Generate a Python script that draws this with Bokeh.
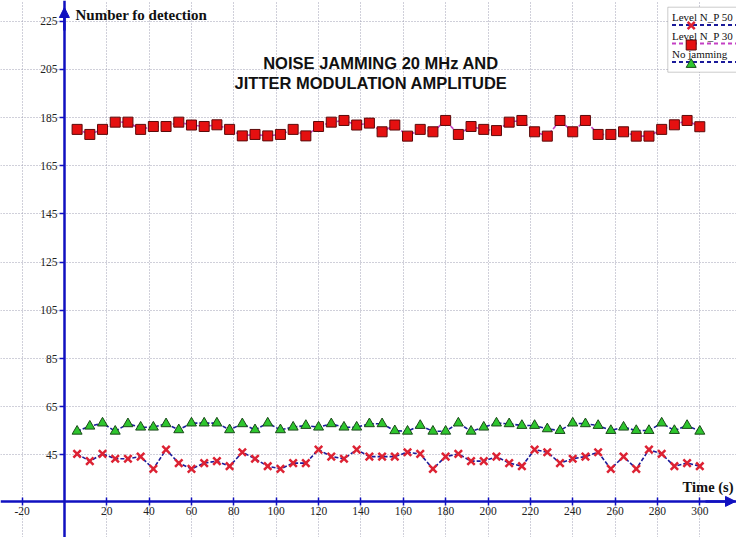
from bokeh.plotting import figure
from bokeh.models import (LinearAxis, FixedTicker, Grid, Range1d, Label, Arrow,
                          NormalHead, BoxAnnotation, ColumnDataSource)
from bokeh.embed import file_html
from bokeh.resources import INLINE

# ---------------- data ----------------
time_s = [6, 12, 18, 24, 30, 36, 42, 48, 54, 60, 66, 72, 78, 84, 90, 96, 102, 108,
          114, 120, 126, 132, 138, 144, 150, 156, 162, 168, 174, 180, 186, 192, 198,
          204, 210, 216, 222, 228, 234, 240, 246, 252, 258, 264, 270, 276, 282, 288,
          294, 300]

level_np_30 = [180.1, 178.0, 180.1, 183.1, 183.1, 180.1, 181.3, 181.3, 183.1, 181.9,
               181.3, 182.0, 180.1, 177.4, 178.0, 177.4, 178.0, 180.1, 177.4, 181.3,
               183.1, 183.8, 181.9, 182.7, 179.1, 181.9, 177.3, 180.1, 179.1, 183.8,
               178.0, 181.3, 180.1, 179.6, 183.1, 183.8, 179.1, 177.3, 183.8, 179.1,
               183.8, 178.0, 178.0, 179.1, 177.3, 177.3, 180.1, 182.0, 183.8, 181.2]

no_jamming = [54.8, 56.9, 58.2, 54.8, 57.9, 56.5, 56.5, 57.9, 55.4, 58.2,
              58.2, 58.2, 55.4, 57.9, 55.4, 58.2, 55.4, 56.5, 57.2, 56.5,
              57.9, 56.5, 56.5, 57.9, 57.9, 55.0, 54.8, 57.2, 54.8, 54.8,
              58.2, 54.8, 56.5, 58.2, 57.9, 57.2, 57.2, 55.8, 55.1, 58.2,
              57.9, 57.2, 55.1, 56.5, 55.1, 55.1, 58.2, 55.1, 57.2, 54.8]

level_np_50 = [45.4, 42.4, 45.4, 43.4, 43.4, 44.3, 39.2, 47.2, 41.6, 39.2,
               41.6, 42.4, 40.3, 46.1, 43.4, 40.3, 39.2, 41.6, 41.6, 47.2,
               44.3, 43.4, 47.2, 44.3, 44.3, 44.3, 46.1, 45.4, 39.2, 44.3,
               45.4, 42.4, 42.4, 44.3, 41.6, 40.3, 47.2, 46.1, 41.6, 43.4,
               44.3, 46.1, 39.2, 44.3, 39.2, 47.2, 45.4, 40.3, 41.6, 40.3]

x_ticks = [-20, 20, 40, 60, 80, 100, 120, 140, 160, 180, 200, 220, 240, 260, 280, 300]
y_ticks = [45, 65, 85, 105, 125, 145, 165, 185, 205, 225]
x_axis_cross = 25.7

title_lines = ["NOISE JAMMING 20 MHz AND", "JITTER MODULATION AMPLITUDE"]
legend_labels = ["Level N_P 50", "Level N_P 30", "No jamming"]

# ---------------- layout helpers (page pixel -> data) ----------------
W, H = 736, 537
X0PX, XSCALE = 63.9, 2.118
Y225PX, YSCALE = 20.7, 2.4094


def dx(px):
    return (px - X0PX) / XSCALE


def dy(py):
    return 225 - (py - Y225PX) / YSCALE


p = figure(width=W, height=H, x_range=Range1d(dx(0), dx(W)),
           y_range=Range1d(dy(H), dy(0)), output_backend="svg",
           toolbar_location=None, x_axis_type=None, y_axis_type=None,
           min_border=0, outline_line_color=None, background_fill_color="white")

grid_kw = dict(grid_line_color="#a0a0b4", grid_line_dash="1 2", grid_line_width=1)
p.add_layout(Grid(dimension=0, ticker=FixedTicker(ticks=x_ticks), **grid_kw))
p.add_layout(Grid(dimension=1, ticker=FixedTicker(ticks=y_ticks), **grid_kw))

AX = "#1010c0"
label_kw = dict(major_label_text_font="Liberation Serif", major_label_text_font_size="11.5px",
                major_label_text_color="#222222", minor_tick_line_color=None)

xaxis = LinearAxis(ticker=FixedTicker(ticks=x_ticks), fixed_location=x_axis_cross,
                   axis_line_color=AX, axis_line_width=2.5, major_tick_line_color=AX,
                   major_tick_line_width=1.5, major_tick_in=4, major_tick_out=4,
                   major_label_standoff=2,
                   major_label_overrides={t: str(t) for t in x_ticks}, **label_kw)
p.add_layout(xaxis, "below")

yaxis = LinearAxis(ticker=FixedTicker(ticks=y_ticks), fixed_location=0,
                   axis_line_color=AX, axis_line_width=2.5, major_tick_line_color=AX,
                   major_tick_line_width=1.5, major_tick_in=0, major_tick_out=5,
                   major_label_standoff=2,
                   major_label_overrides={t: str(t) for t in y_ticks}, **label_kw)
p.add_layout(yaxis, "left")

# axis arrow heads
p.add_layout(Arrow(end=NormalHead(size=10, fill_color=AX, line_color=AX),
                   x_start=0, y_start=dy(30), x_end=0, y_end=dy(7),
                   line_color=AX, line_width=2.5))
p.add_layout(Arrow(end=NormalHead(size=10, fill_color=AX, line_color=AX),
                   x_start=dx(705), y_start=x_axis_cross, x_end=dx(735), y_end=x_axis_cross,
                   line_color=AX, line_width=2.5))

# ---------------- series ----------------
src = ColumnDataSource(dict(t=time_s, s30=level_np_30, s50=level_np_50, nj=no_jamming))

NAVY = "#1a1a9a"
MAG = "#c440c4"
p.line("t", "s30", source=src, line_color=MAG, line_width=1.6, line_dash="4 2")
p.line("t", "nj", source=src, line_color=NAVY, line_width=1.6, line_dash="4 2")
p.line("t", "s50", source=src, line_color=NAVY, line_width=1.6, line_dash="4 2")

p.scatter("t", "s30", source=src, marker="square", size=10, fill_color="#e51010",
          line_color="#5a0a0a", line_width=1)
p.scatter("t", "nj", source=src, marker="triangle", size=10, fill_color="#2ec62e",
          line_color="#1a4a1a", line_width=1)
p.scatter("t", "s50", source=src, marker="x", size=10.5, line_color="#dd2233",
          line_width=2.5)

# ---------------- texts ----------------
p.add_layout(Label(x=dx(380.5), y=dy(62.7), text=title_lines[0], text_align="center",
                   text_baseline="middle", text_font="Liberation Sans",
                   text_font_style="bold", text_font_size="16.5px", text_color="#111111"))
p.add_layout(Label(x=dx(370.5), y=dy(82.7), text=title_lines[1], text_align="center",
                   text_baseline="middle", text_font="Liberation Sans",
                   text_font_style="bold", text_font_size="16.5px", text_color="#111111"))

p.add_layout(Label(x=dx(75), y=dy(14.5), text="Number fo detection", text_align="left",
                   text_baseline="middle", text_font="Liberation Serif",
                   text_font_style="bold", text_font_size="15px", text_color="#111111"))
p.add_layout(Label(x=dx(733), y=dy(486.5), text="Time (s)", text_align="right",
                   text_baseline="middle", text_font="Liberation Serif",
                   text_font_style="bold", text_font_size="14.5px", text_color="#111111"))

# ---------------- legend (custom, label above sample) ----------------
box = BoxAnnotation(left=dx(667.3), right=dx(745), top=dy(6.7), bottom=dy(71.7),
                    fill_color="white", fill_alpha=1.0, line_color="#555555",
                    line_width=1, level="underlay")
p.add_layout(box)

text_y = [16.7, 35.0, 53.3]
line_y = [24.5, 43.0, 61.5]
line_colors = [NAVY, MAG, NAVY]
for lbl, ty in zip(legend_labels, text_y):
    p.add_layout(Label(x=dx(671.5), y=dy(ty), text=lbl, text_align="left",
                       text_baseline="middle", text_font="Liberation Serif",
                       text_font_size="11px", text_color="#111111"))
for ly, lc in zip(line_y, line_colors):
    p.segment(x0=[dx(671.5)], y0=[dy(ly)], x1=[dx(736)], y1=[dy(ly)],
              line_color=lc, line_width=2, line_dash="4 3")

mx = dx(690.7)
p.scatter([mx], [dy(line_y[0] + 0.5)], marker="x", size=10, line_color="#dd2233",
          line_width=2.5)
p.scatter([mx], [dy(line_y[1] + 1.5)], marker="square", size=10, fill_color="#e51010",
          line_color="#5a0a0a", line_width=1)
p.scatter([mx], [dy(line_y[2] + 2.5)], marker="triangle", size=10, fill_color="#2ec62e",
          line_color="#1a4a1a", line_width=1)

open("out.html", "w").write(file_html(p, INLINE))
